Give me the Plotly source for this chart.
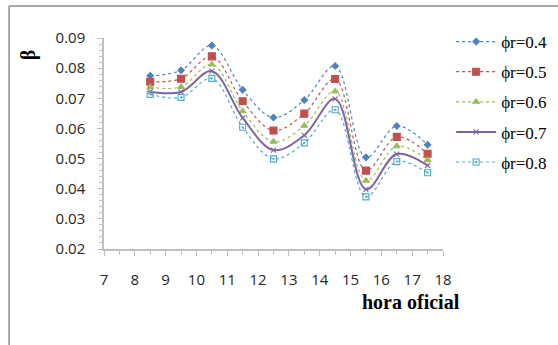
import plotly.graph_objects as go

hours = [8.5, 9.5, 10.5, 11.5, 12.5, 13.5, 14.5, 15.5, 16.5, 17.5]
phi_04 = [0.0775, 0.0793, 0.0875, 0.0728, 0.0636, 0.0694, 0.0807, 0.0504, 0.0608, 0.0546]
phi_05 = [0.0755, 0.0765, 0.0839, 0.0690, 0.0593, 0.0649, 0.0764, 0.0460, 0.0572, 0.0516]
phi_06 = [0.0737, 0.0738, 0.0812, 0.0657, 0.0556, 0.0609, 0.0723, 0.0427, 0.0541, 0.0495]
phi_07 = [0.0722, 0.0721, 0.0790, 0.0635, 0.0528, 0.0577, 0.0698, 0.0398, 0.0515, 0.0477]
phi_08 = [0.0713, 0.0703, 0.0766, 0.0604, 0.0499, 0.0552, 0.0662, 0.0373, 0.0490, 0.0453]
labels = ["ϕr=0.4", "ϕr=0.5", "ϕr=0.6", "ϕr=0.7", "ϕr=0.8"]

series = [phi_04, phi_05, phi_06, phi_07, phi_08]
colors = ["#4F81BD", "#C0504D", "#9BBB59", "#8064A2", "#4BACC6"]
symbols = ["diamond", "square", "triangle-up", "x-thin-open", "square-open-dot"]
dashes = ["dot", "dot", "dot", "solid", "dot"]
widths = [1.2, 1.2, 1.2, 2.0, 1.2]
msizes = [5, 7, 6, 5, 6]

fig = go.Figure()
for i, (ys, lab, c, s, d, w, ms) in enumerate(zip(series, labels, colors, symbols, dashes, widths, msizes)):
    fig.add_trace(go.Scatter(
        x=hours, y=ys, name=lab, mode="lines+markers", legendgroup=f"g{i}",
        line=dict(color=c, dash=d, width=w, shape="spline", smoothing=1.0),
        marker=dict(symbol=s, color=c, size=ms, line=dict(color=c, width=1.1)),
    ))

# invisible carrier trace so the label-only x axis (x2) is drawn
fig.add_trace(go.Scatter(x=hours, y=phi_04, xaxis="x2", mode="none",
                         showlegend=False, hoverinfo="skip"))

axis_line = "#BFBFBF"
tick_font = dict(family="Open Sans", size=15, color="#262626")

fig.update_layout(
    xaxis=dict(
        range=[7, 18], dtick=1, tick0=7, showgrid=False, zeroline=False,
        showline=True, linecolor=axis_line, linewidth=1.5,
        ticks="outside", ticklen=5, tickcolor=axis_line, showticklabels=False,
        minor=dict(dtick=0.5, ticks="outside", ticklen=4, tickcolor=axis_line),
    ),
    xaxis2=dict(
        range=[7, 18], dtick=1, tick0=7, showgrid=False, zeroline=False,
        overlaying="x", anchor="y", side="bottom", showline=False,
        ticks="", ticklen=0, ticklabelstandoff=20, tickfont=tick_font,
    ),
    yaxis=dict(
        range=[0.02, 0.09], dtick=0.01, tickformat=".2f", showgrid=False, zeroline=False,
        showline=True, linecolor=axis_line, linewidth=1.5,
        ticks="outside", ticklen=5, tickcolor=axis_line, ticklabelstandoff=9,
        minor=dict(dtick=0.002, ticks="outside", ticklen=3, tickcolor=axis_line),
        tickfont=tick_font,
    ),
    width=558, height=345,
    margin=dict(l=104, r=115, t=38, b=96, autoexpand=False),
    paper_bgcolor="white", plot_bgcolor="white",
    showlegend=True,
    legend=dict(
        x=1.024, y=1.066, xanchor="left", yanchor="top",
        font=dict(family="Liberation Serif", size=17, color="black"),
        tracegroupgap=5, itemwidth=40,
        bgcolor="rgba(0,0,0,0)",
    ),
    annotations=[
        dict(text="<b>hora oficial</b>", x=0.907, y=-0.25, xref="paper", yref="paper",
             xanchor="center", yanchor="middle", showarrow=False,
             font=dict(family="Liberation Serif", size=20, color="black")),
        dict(text="<b>β</b>", x=-0.223, y=0.92, xref="paper", yref="paper",
             xanchor="center", yanchor="middle", showarrow=False, textangle=-90,
             font=dict(family="Liberation Serif", size=20, color="black")),
    ],
    shapes=[
        dict(type="line", xref="paper", yref="paper", x0=-0.28, x1=1.5, y0=1.152, y1=1.152,
             line=dict(color="#8C8C8C", width=1.5)),
        dict(type="line", xref="paper", yref="paper", x0=-0.28, x1=-0.28, y0=1.152, y1=-0.6,
             line=dict(color="#8C8C8C", width=1.5)),
    ],
)

fig.write_html("out.html", post_script="document.body.style.margin='0';",
               config={"displayModeBar": False})
